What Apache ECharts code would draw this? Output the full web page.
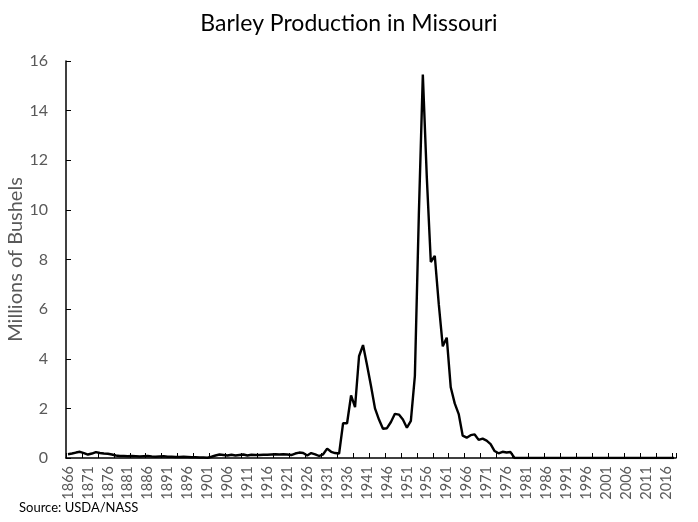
<!DOCTYPE html>
<html>
<head>
<meta charset="utf-8">
<script src="https://cdn.jsdelivr.net/npm/echarts@6/dist/echarts.min.js"></script>
<style>html,body{margin:0;padding:0;background:#fff}#c{width:698px;height:522px}</style>
</head>
<body>
<div id="c"></div>
<script>
var startYear = 1866;
var endYear = 2018;
var years = [];
for (var y = startYear; y <= endYear; y++) years.push(String(y));

// Millions of bushels, 1866-1934
var prod1866to1934 = [
  0.15, 0.18, 0.22, 0.25, 0.20, 0.14, 0.18, 0.24, 0.20, 0.18,
  0.17, 0.14, 0.10, 0.08, 0.08, 0.07, 0.08, 0.07, 0.06, 0.07,
  0.08, 0.06, 0.05, 0.06, 0.07, 0.05, 0.05, 0.04, 0.04, 0.05,
  0.04, 0.03, 0.03, 0.02, 0.02, 0.01, 0.05, 0.10, 0.14, 0.12,
  0.10, 0.13, 0.10, 0.12, 0.14, 0.10, 0.13, 0.12, 0.12, 0.13,
  0.13, 0.14, 0.15, 0.14, 0.15, 0.14, 0.12, 0.18, 0.22, 0.20,
  0.10, 0.20, 0.15, 0.08, 0.15, 0.38, 0.25, 0.20, 0.18
];
// 1935-1977
var prod1935to1977 = [
  1.40, 1.40, 2.52, 2.05, 4.10, 4.55, 3.75, 2.90, 2.00, 1.55,
  1.18, 1.20, 1.45, 1.78, 1.75, 1.55, 1.22, 1.50, 3.30, 9.80,
  15.45, 11.30, 7.90, 8.15, 6.20, 4.50, 4.85, 2.85, 2.20, 1.77,
  0.90, 0.82, 0.92, 0.95, 0.73, 0.78, 0.70, 0.56, 0.28, 0.19,
  0.25, 0.22, 0.24
];
// 1978-2018
var prod1978to2018 = [];
for (var k = 1978; k <= endYear; k++) prod1978to2018.push(0);

var production = prod1866to1934.concat(prod1935to1977, prod1978to2018);

var titleText = 'Barley Production in Missouri';
var yAxisName = 'Millions of Bushels';
var sourceText = 'Source: USDA/NASS';

var chart = echarts.init(document.getElementById('c'), null, {renderer: 'canvas'});
chart.setOption({
  animation: false,
  backgroundColor: '#ffffff',
  title: [
    {text: titleText, left: 'center', top: 7,
     textStyle: {fontFamily: 'Lato', fontSize: 23, fontWeight: 'normal', color: '#000'}},
    {text: sourceText, left: 14, bottom: 3,
     textStyle: {fontFamily: 'Lato', fontSize: 13, fontWeight: 'normal', color: '#000'}}
  ],
  grid: {left: 66, right: 22, top: 61, bottom: 64, containLabel: false, outerBoundsMode: 'none'},
  xAxis: {
    type: 'category',
    data: years,
    boundaryGap: true,
    axisLine: {show: true, lineStyle: {color: '#000', width: 1.5}},
    axisTick: {show: true, inside: true, length: 5, interval: 3, lineStyle: {color: '#000', width: 1}},
    axisLabel: {interval: 4, rotate: 90, margin: 8, color: '#595959', fontFamily: 'Lato', fontSize: 14.5},
    splitLine: {show: false}
  },
  yAxis: {
    type: 'value',
    min: 0, max: 16, interval: 2,
    name: yAxisName,
    nameLocation: 'middle',
    nameGap: 40,
    nameMoveOverlap: false,
    nameTextStyle: {fontFamily: 'Lato', fontSize: 20, color: '#595959'},
    axisLine: {show: true, lineStyle: {color: '#000', width: 1.5}},
    axisTick: {show: true, inside: true, length: 5, lineStyle: {color: '#000', width: 1}},
    axisLabel: {margin: 18, color: '#595959', fontFamily: 'Lato', fontSize: 16},
    splitLine: {show: false}
  },
  series: [{
    type: 'line',
    data: production,
    showSymbol: false,
    symbol: 'none',
    smooth: false,
    lineStyle: {color: '#000', width: 2.4},
    z: 3
  }]
});
</script>
</body>
</html>
